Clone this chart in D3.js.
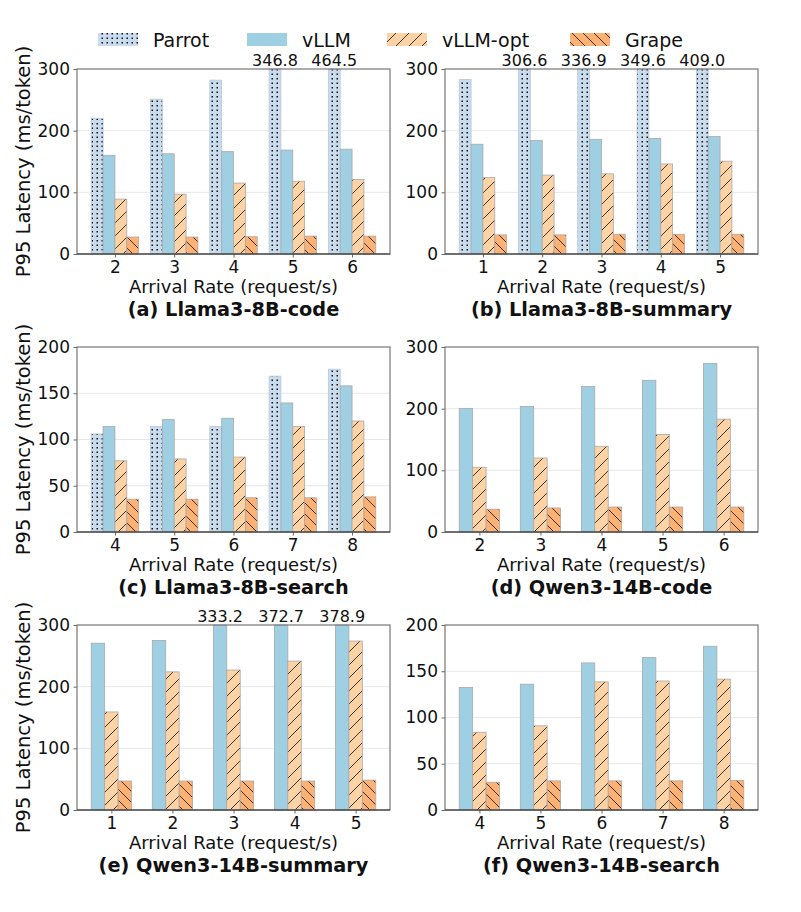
<!DOCTYPE html>
<html>
<head>
<meta charset="utf-8">
<script src="https://cdn.jsdelivr.net/npm/d3@7"></script>
<style>
  body { margin: 0; background: #fff; }
  svg { font-family: "DejaVu Sans", sans-serif; }
</style>
</head>
<body>
<svg id="chart" width="801" height="912"></svg>
<script>
  // series
  const seriesNames = ['Parrot', 'vLLM', 'vLLM-opt', 'Grape'];

  // arrival rates per panel
  const ratesA = [2, 3, 4, 5, 6];
  const ratesB = [1, 2, 3, 4, 5];
  const ratesC = [4, 5, 6, 7, 8];
  const ratesD = [2, 3, 4, 5, 6];
  const ratesE = [1, 2, 3, 4, 5];
  const ratesF = [4, 5, 6, 7, 8];

  // P95 latency (ms/token)
  const parrotA = [220, 251, 282, 346.8, 464.5];
  const parrotB = [283, 306.6, 336.9, 349.6, 409.0];
  const parrotC = [106, 114, 114, 168.5, 176];

  const vllmA = [160, 162.5, 166, 168.5, 170];
  const vllmB = [178, 184, 186, 187.5, 190.5];
  const vllmC = [114, 121.5, 123, 139.5, 158];
  const vllmD = [200.5, 203.5, 236, 246, 273.5];
  const vllmE = [270.5, 275, 333.2, 372.7, 378.9];
  const vllmF = [132.5, 136, 159, 165, 177];

  const optA = [89, 97, 115, 118, 121];
  const optB = [124, 128, 130, 146, 150.5];
  const optC = [77, 79, 81, 114, 120];
  const optD = [105, 120, 139, 158, 183];
  const optE = [159, 224, 227, 241.5, 274];
  const optF = [84, 91, 138.5, 139.5, 141.5];

  const grapeA = [27.5, 27.5, 28, 29, 29];
  const grapeB = [31, 31, 32, 32, 32];
  const grapeC = [35.5, 35.5, 37, 37, 38];
  const grapeD = [37, 39, 40.5, 40.5, 40.5];
  const grapeE = [47, 47, 47, 47, 48.5];
  const grapeF = [30, 31.5, 31.5, 31.5, 32];

  const yTicks300 = [0, 100, 200, 300];
  const yTicks200 = [0, 50, 100, 150, 200];

  const panels = [
    {title: '(a) Llama3-8B-code', rates: ratesA, data: [parrotA, vllmA, optA, grapeA], ticks: yTicks300, col: 0, row: 0},
    {title: '(b) Llama3-8B-summary', rates: ratesB, data: [parrotB, vllmB, optB, grapeB], ticks: yTicks300, col: 1, row: 0},
    {title: '(c) Llama3-8B-search', rates: ratesC, data: [parrotC, vllmC, optC, grapeC], ticks: yTicks200, col: 0, row: 1},
    {title: '(d) Qwen3-14B-code', rates: ratesD, data: [null, vllmD, optD, grapeD], ticks: yTicks300, col: 1, row: 1},
    {title: '(e) Qwen3-14B-summary', rates: ratesE, data: [null, vllmE, optE, grapeE], ticks: yTicks300, col: 0, row: 2},
    {title: '(f) Qwen3-14B-search', rates: ratesF, data: [null, vllmF, optF, grapeF], ticks: yTicks200, col: 1, row: 2}
  ];

  const colLeft = [77, 445];
  const colRight = [390, 758];
  const rowTop = [69, 347, 625];
  const rowBottom = [254, 532, 810];

  const fills = ['url(#dots)', '#9fcfe3', 'url(#fwd)', 'url(#back)'];

  const svg = d3.select('#chart');
  const defs = svg.append('defs');

  // hatch patterns
  const dots = defs.append('pattern').attr('id', 'dots')
    .attr('patternUnits', 'userSpaceOnUse').attr('width', 5).attr('height', 9);
  dots.append('rect').attr('width', 5).attr('height', 9).attr('fill', '#c9dcee');
  dots.append('rect').attr('x', 1.5).attr('y', 1.5).attr('width', 1.5).attr('height', 1.5).attr('fill', '#111');
  dots.append('rect').attr('x', 1.5).attr('y', 6).attr('width', 1.5).attr('height', 1.5).attr('fill', '#111');

  const fwd = defs.append('pattern').attr('id', 'fwd')
    .attr('patternUnits', 'userSpaceOnUse').attr('width', 13).attr('height', 13);
  fwd.append('rect').attr('width', 13).attr('height', 13).attr('fill', '#fdd3a6');
  fwd.append('path').attr('d', 'M0,13L13,0M-3,3L3,-3M10,16L16,10')
    .attr('stroke', '#222').attr('stroke-width', 0.9);

  const back = defs.append('pattern').attr('id', 'back')
    .attr('patternUnits', 'userSpaceOnUse').attr('width', 11).attr('height', 11);
  back.append('rect').attr('width', 11).attr('height', 11).attr('fill', '#fdb173');
  back.append('path').attr('d', 'M0,0L11,11M-3,8L3,14M8,-3L14,3')
    .attr('stroke', '#222').attr('stroke-width', 0.9);

  panels.forEach(p => {
    const left = colLeft[p.col], right = colRight[p.col];
    const top = rowTop[p.row], bottom = rowBottom[p.row];
    const ymax = p.ticks[p.ticks.length - 1];
    const present = p.data.map((d, i) => d ? i : -1).filter(i => i >= 0);
    const nb = present.length;
    const bw = nb === 4 ? 0.2 : 0.22;
    const half = nb * bw / 2;
    const pad = (p.rates.length - 1 + 2 * half) * 0.05;

    const x = d3.scaleLinear().domain([-half - pad, p.rates.length - 1 + half + pad]).range([left, right]);
    const y = d3.scaleLinear().domain([0, ymax]).range([bottom, top]);

    const g = svg.append('g');

    // grid
    g.selectAll('.grid').data(p.ticks.slice(1, -1)).enter().append('line')
      .attr('x1', left).attr('x2', right)
      .attr('y1', d => y(d)).attr('y2', d => y(d))
      .attr('stroke', '#e8e8e8').attr('stroke-width', 1);

    // bars
    present.forEach((s, k) => {
      const off = -half + k * bw;
      const vals = p.data[s];
      g.selectAll('.bar' + s).data(vals).enter().append('rect')
        .attr('x', (d, i) => x(i + off))
        .attr('width', x(bw) - x(0))
        .attr('y', d => y(Math.min(d, ymax)))
        .attr('height', d => bottom - y(Math.min(d, ymax)))
        .attr('fill', fills[s])
        .attr('stroke', s === 0 ? '#b7c9da' : '#a9a9a9')
        .attr('stroke-width', 0.8);

      g.selectAll('.lab' + s).data(vals.map((v, i) => ({v, i})).filter(d => d.v > ymax))
        .enter().append('text')
        .attr('x', d => x(d.i + off + bw / 2))
        .attr('y', top - 3)
        .attr('text-anchor', 'middle')
        .attr('font-size', 16)
        .attr('fill', '#111')
        .text(d => d.v.toFixed(1));
    });

    // axes
    const yAxis = g.append('g').attr('transform', `translate(${left},0)`)
      .call(d3.axisLeft(y).tickValues(p.ticks).tickSize(3.5).tickPadding(3.5));
    const xAxis = g.append('g').attr('transform', `translate(0,${bottom})`)
      .call(d3.axisBottom(x).tickValues(d3.range(p.rates.length)).tickFormat(i => p.rates[i]).tickSize(3.5).tickPadding(3.5));
    [yAxis, xAxis].forEach(a => {
      a.select('.domain').remove();
      a.selectAll('.tick line').attr('stroke', '#666');
      a.selectAll('.tick text').attr('font-size', 17).attr('fill', '#111')
        .attr('font-family', '"DejaVu Sans", sans-serif');
    });

    // frame
    g.append('rect').attr('x', left).attr('y', top)
      .attr('width', right - left).attr('height', bottom - top)
      .attr('fill', 'none').attr('stroke', '#777').attr('stroke-width', 1.2);
    g.append('line').attr('x1', left).attr('x2', right).attr('y1', bottom).attr('y2', bottom)
      .attr('stroke', '#333').attr('stroke-width', 1.2);

    const cx = (left + right) / 2;
    g.append('text').attr('x', cx).attr('y', bottom + 39)
      .attr('text-anchor', 'middle').attr('font-size', 18).attr('fill', '#111')
      .text('Arrival Rate (request/s)');
    g.append('text').attr('x', cx).attr('y', bottom + 62)
      .attr('text-anchor', 'middle').attr('font-size', 19.3).attr('font-weight', 'bold').attr('fill', '#111')
      .text(p.title);

    if (p.col === 0) {
      g.append('text')
        .attr('transform', `translate(30,${(top + bottom) / 2}) rotate(-90)`)
        .attr('text-anchor', 'middle').attr('font-size', 19.5).attr('fill', '#111')
        .text('P95 Latency (ms/token)');
    }
  });

  // legend
  const legendX = [98, 247, 387, 570];
  const leg = svg.append('g');
  seriesNames.forEach((name, i) => {
    leg.append('rect').attr('x', legendX[i]).attr('y', 33)
      .attr('width', 40).attr('height', 13).attr('fill', fills[i]);
    leg.append('text').attr('x', legendX[i] + 55).attr('y', 46.5)
      .attr('font-size', 19).attr('fill', '#111').text(name);
  });
</script>
</body>
</html>
